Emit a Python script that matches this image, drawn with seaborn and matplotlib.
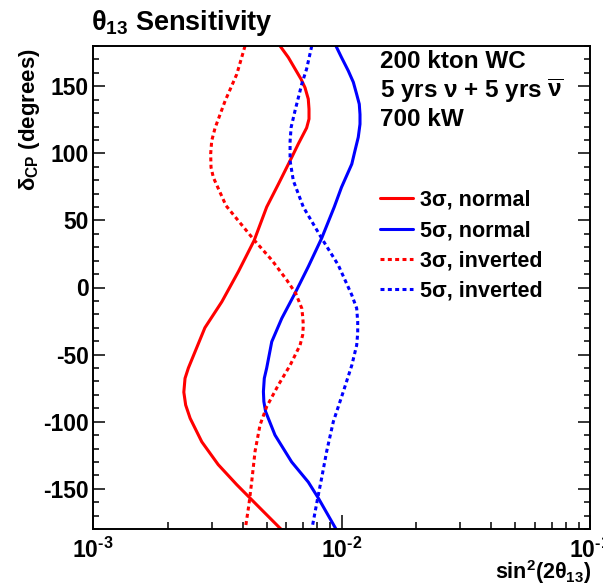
import numpy as np
import pandas as pd
import matplotlib
matplotlib.use("Agg")
import matplotlib.pyplot as plt
import matplotlib.ticker as mticker
import seaborn as sns

# ---- data ----
delta_3s_normal = [180, 171.5, 163, 155.4, 149, 140.5, 133, 125.6, 119, 107, 94.5, 77, 60, 35, 12, -10.6, -30, -60,
                   -67.7, -78, -87.6, -97.5, -115, -132, -147, -162, -180]
sin2_3s_normal = [0.00566, 0.00611, 0.0065, 0.00687, 0.00713, 0.00735, 0.0074, 0.0074, 0.00724, 0.0067, 0.00621,
                  0.00557, 0.0050, 0.00445, 0.00385, 0.0033, 0.00282, 0.00242, 0.002346, 0.00232, 0.00236, 0.00246,
                  0.00274, 0.00319, 0.00379, 0.00456, 0.00570]

delta_5s_normal = [180, 171.5, 161.5, 153, 144, 136.7, 129, 121.8, 112, 102, 92, 74.7, 60, 36.7, 15.5, -4.3, -23,
                   -40.4, -60, -67.7, -77.6, -85, -92.5, -110, -130, -145, -157, -180]
sin2_5s_normal = [0.0095, 0.0100, 0.01065, 0.01116, 0.01151, 0.01179, 0.01187, 0.01187, 0.01168, 0.01133, 0.0110,
                  0.0100, 0.00935, 0.00832, 0.00735, 0.0065, 0.00575, 0.00524, 0.0050, 0.00489, 0.00485, 0.00487,
                  0.00495, 0.0054, 0.0063, 0.00735, 0.00807, 0.0095]

delta_3s_inverted = [180, 159, 139, 119, 109.4, 99.5, 89.6, 82, 61, 46.6, 35.4, 20.5, 5.6, -4.3, -15.5, -21.7, -28,
                     -35.4, -43, -58, -72.7, -88.8, -102.5, -122, -145, -162, -180]
sin2_3s_inverted = [0.00409, 0.00379, 0.0034, 0.0031, 0.003004, 0.002975, 0.002985, 0.00305, 0.00343, 0.00397,
                    0.00445, 0.00524, 0.00602, 0.00654, 0.00692, 0.00698, 0.00702, 0.00698, 0.00681, 0.00621,
                    0.00557, 0.0050, 0.0047, 0.00449, 0.00435, 0.00424, 0.0041]

delta_5s_inverted = [180, 163, 151.6, 131.7, 119.4, 109, 94.5, 79.6, 60, 36.7, 16.8, -5.6, -15.5, -25.5, -34, -43,
                     -58, -77.6, -100, -122, -142, -157, -180]
sin2_5s_inverted = [0.00759, 0.00724, 0.00692, 0.0065, 0.00627, 0.00621, 0.00621, 0.0064, 0.00702, 0.00832, 0.0097,
                    0.0110, 0.01151, 0.01162, 0.01162, 0.01151, 0.0110, 0.01017, 0.00927, 0.00872, 0.00832,
                    0.00802, 0.0076]

series_labels = ["3σ, normal", "5σ, normal", "3σ, inverted", "5σ, inverted"]
title_text = r"$\theta_{13}$ Sensitivity"
info_lines = ["200 kton WC", r"5 yrs $\nu$ + 5 yrs $\overline{\nu}$", "700 kW"]
x_ticks = [1e-3, 1e-2, 1e-1]
x_tick_labels = [r"10$^{\text{-3}}$", r"10$^{\text{-2}}$", r"10$^{\text{-1}}$"]
y_ticks = [-150, -100, -50, 0, 50, 100, 150]

# ---- style ----
sns.set_theme(style="white")
plt.rcParams["font.family"] = ["Liberation Sans", "DejaVu Sans"]
plt.rcParams["font.weight"] = "bold"
plt.rcParams["text.color"] = "black"
plt.rcParams["axes.labelcolor"] = "black"
plt.rcParams["xtick.color"] = "black"
plt.rcParams["ytick.color"] = "black"
plt.rcParams["axes.unicode_minus"] = False
plt.rcParams["mathtext.fontset"] = "custom"
plt.rcParams["mathtext.rm"] = "Liberation Sans:bold"
plt.rcParams["mathtext.it"] = "Liberation Sans:bold"
plt.rcParams["mathtext.bf"] = "Liberation Sans:bold"
plt.rcParams["mathtext.sf"] = "Liberation Sans:bold"

W, H = 603, 586
fig = plt.figure(figsize=(W / 100, H / 100), dpi=100)
fig.patch.set_facecolor("white")
L, R, T, B = 93, 590, 46, 529
ax = fig.add_axes([L / W, 1 - B / H, (R - L) / W, (B - T) / H])
ax.set_facecolor("white")

curves = [
    (sin2_3s_normal, delta_3s_normal, "#ff0000", "-"),
    (sin2_5s_normal, delta_5s_normal, "#0000ff", "-"),
    (sin2_3s_inverted, delta_3s_inverted, "#ff0000", (0, (1.3, 1.1))),
    (sin2_5s_inverted, delta_5s_inverted, "#0000ff", (0, (1.3, 1.1))),
]
for (xs, ys, col, ls), lab in zip(curves, series_labels):
    df = pd.DataFrame({"sin2": xs, "delta": ys})
    sns.lineplot(data=df, x="sin2", y="delta", sort=False, estimator=None, color=col,
                 linestyle=ls, linewidth=2.2, label=lab, ax=ax, legend=False)

ax.set_xscale("log")
ax.set_xlim(1e-3, 1e-1)
ax.set_ylim(-180, 180)
ax.set_xlabel("")
ax.set_ylabel("")

ax.xaxis.set_major_locator(mticker.FixedLocator(x_ticks))
ax.xaxis.set_major_formatter(mticker.FixedFormatter(x_tick_labels))
ax.xaxis.set_minor_locator(mticker.LogLocator(base=10, subs=np.arange(2, 10)))
ax.xaxis.set_minor_formatter(mticker.NullFormatter())
ax.yaxis.set_major_locator(mticker.FixedLocator(y_ticks))
ax.yaxis.set_minor_locator(mticker.MultipleLocator(10))

ax.tick_params(axis="x", which="both", direction="in", bottom=True, top=False, labelsize=16.5, width=1.1, pad=6, colors="black")
ax.tick_params(axis="x", which="major", length=10)
ax.tick_params(axis="x", which="minor", length=4.8)
ax.tick_params(axis="y", which="both", direction="in", left=True, right=True, labelsize=16.5, width=1.1, pad=3, colors="black")
ax.tick_params(axis="y", which="major", length=8.9)
ax.tick_params(axis="y", which="minor", length=4.2)
for lbl in ax.get_xticklabels() + ax.get_yticklabels():
    lbl.set_fontweight("bold")
for s in ax.spines.values():
    s.set_color("black")
    s.set_linewidth(1.4)
    s.set_visible(True)

# title and axis titles
fig.text(91 / W, 1 - 30 / H, title_text, ha="left", va="baseline", fontsize=19.5, fontweight="bold", color="black")
fig.text(30 / W, 1 - 48 / H, r"$\delta_{CP}$ (degrees)", rotation=90, ha="center", va="top", fontsize=16,
         fontweight="bold", color="black")
fig.text(591 / W, 1 - 572 / H, r"sin$^{2}$(2$\theta_{13}$)", ha="right", va="center", fontsize=15.5,
         fontweight="bold", color="black")

for i, yc in enumerate([61, 90.5, 119.5]):
    fig.text(380 / W, 1 - yc / H, info_lines[i], ha="left", va="center", fontsize=17.5, fontweight="bold", color="black")

leg = ax.legend(loc="upper left", bbox_to_anchor=(380 / W, 1 - 190 / H), bbox_transform=fig.transFigure,
                frameon=False, fontsize=15.5, handlelength=1.53, handletextpad=0.33, labelspacing=0.42,
                borderpad=0, borderaxespad=0)
for t in leg.get_texts():
    t.set_fontweight("bold")
    t.set_color("black")

fig.savefig("out.png", dpi=100, facecolor="white")
